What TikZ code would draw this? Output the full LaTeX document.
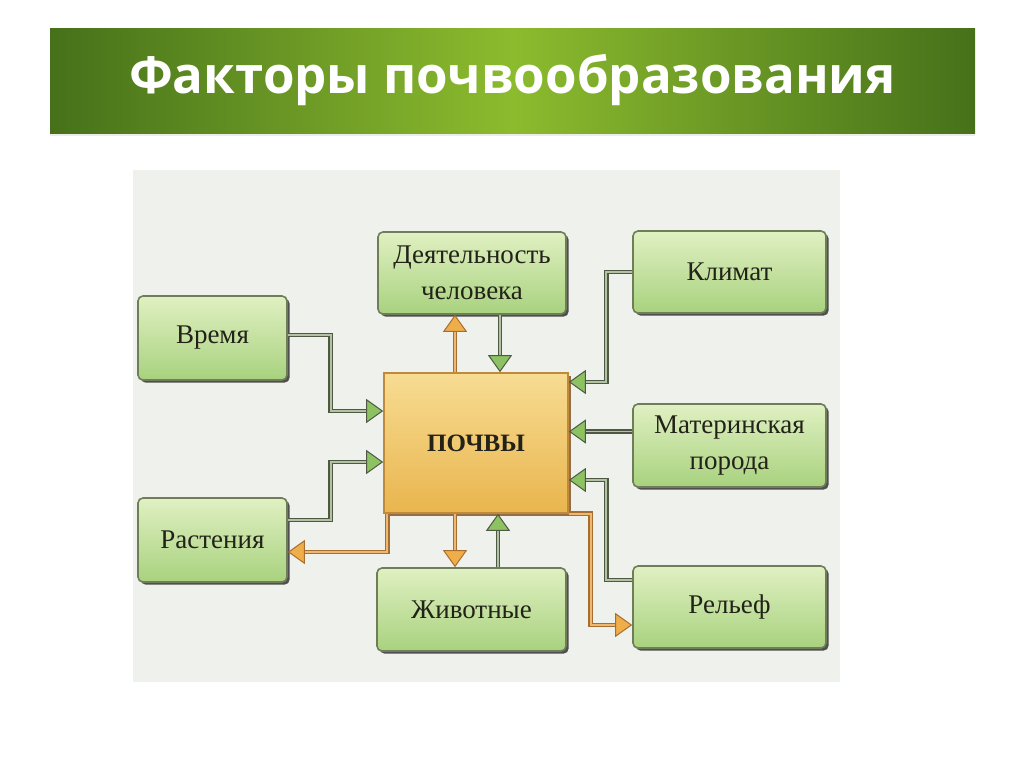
\documentclass[tikz,border=0pt]{standalone}
\usepackage{fontspec}
\setmainfont{Liberation Serif}
\newfontfamily\titlefont{Open Sans}
\usetikzlibrary{arrows.meta,shadows}

\definecolor{titledark}{HTML}{46711A}
\definecolor{titlelight}{HTML}{8CBB2E}
\definecolor{panel}{HTML}{EEF1EC}
\definecolor{boxtop}{HTML}{E0F0C2}
\definecolor{boxbottom}{HTML}{A8D27E}
\definecolor{boxline}{HTML}{6F7E58}
\definecolor{soiltop}{HTML}{F7DC92}
\definecolor{soilbottom}{HTML}{E9B54E}
\definecolor{soilline}{HTML}{C08A3C}
\definecolor{linedark}{HTML}{4E5843}
\definecolor{lineinner}{HTML}{B3C2A4}
\definecolor{arrowgreen}{HTML}{8DC262}
\definecolor{orangedark}{HTML}{A86E30}
\definecolor{orangeinner}{HTML}{EDB872}
\definecolor{arroworange}{HTML}{F0AE4A}
\definecolor{textdark}{HTML}{222218}

\tikzset{
  factor/.style={draw=boxline, line width=0.8pt, rounded corners=2.5pt,
    top color=boxtop, bottom color=boxbottom, text=textdark, align=center,
    font=\fontsize{13.5}{18}\selectfont,
    drop shadow={shadow xshift=1.3pt, shadow yshift=-1.3pt, fill=black!80, opacity=0.85}},
  soil/.style={draw=soilline, line width=0.8pt,
    top color=soiltop, bottom color=soilbottom, text=textdark,
    font=\fontsize{12.5}{18}\selectfont\bfseries,
    minimum width=92pt, minimum height=70pt,
    drop shadow={shadow xshift=1.3pt, shadow yshift=-1.3pt, fill=orangedark!80!black, opacity=0.85}},
  gconn/.style={draw=linedark, line width=2.4pt,
    -{Triangle[length=8.5pt,width=12pt,line width=0.5pt,fill=arrowgreen,color=linedark]},
    postaction={draw=lineinner, line width=0.8pt, arrows=-, shorten >=8.5pt}},
  oconn/.style={draw=orangedark, line width=2.4pt,
    -{Triangle[length=8.5pt,width=12pt,line width=0.5pt,fill=arroworange,color=orangedark]},
    postaction={draw=orangeinner, line width=0.8pt, arrows=-, shorten >=8.5pt}}
}

\begin{document}
\begin{tikzpicture}[x=0.5pt,y=-0.5pt]
    \useasboundingbox (0,0) rectangle (1024,767);
    \fill[white] (0,0) rectangle (1024,767);
    \node[minimum width=462.5pt, minimum height=52.5pt, inner sep=0pt,
          left color=titledark, right color=titledark, middle color=titlelight,
          drop shadow={shadow xshift=0pt, shadow yshift=-1.5pt, opacity=0.15},
          text=white, font=\titlefont\fontsize{25.5}{30}\selectfont\bfseries]
          (title) at (512.5,80.5) {Факторы почвообразования};
    \fill[panel] (133,170) rectangle (840,682);

    % factors round the soil
    \node[factor, minimum width=74.5pt, minimum height=42pt] (vremya) at (212.5,338) {Время};
    \node[factor, minimum width=94pt, minimum height=41pt] (deyat) at (472,273) {Деятельность\\человека};
    \node[factor, minimum width=96.5pt, minimum height=41pt] (klimat) at (729.5,272) {Климат};
    \node[soil] (pochvy) at (476,443) {ПОЧВЫ};
    \node[factor, minimum width=96.5pt, minimum height=41.5pt] (poroda) at (729.5,445.5) {Материнская\\порода};
    \node[factor, minimum width=74.5pt, minimum height=42pt] (rast) at (212.5,540) {Растения};
    \node[factor, minimum width=94.5pt, minimum height=41.5pt] (zhiv) at (471.5,609.5) {Животные};
    \node[factor, minimum width=96.5pt, minimum height=41pt] (relef) at (729.5,607) {Рельеф};

    % links into the soil
    \draw[gconn] ([yshift=1.5pt]vremya.east) -- ++(43,0) |- ([yshift=16pt]pochvy.west);
    \draw[gconn] ([yshift=10pt]rast.east) -- ++(43,0) |- ([yshift=-9.5pt]pochvy.west);
    \draw[gconn] ([xshift=12pt]pochvy.north |- deyat.south) -- ([xshift=12pt]pochvy.north);
    \draw[gconn] ([xshift=11pt]pochvy.south |- zhiv.north) -- ([xshift=11pt]pochvy.south);
    \draw[gconn] (klimat.west) -- ++(-26,0) |- ([yshift=30.5pt]pochvy.east);
    \draw[gconn] ([yshift=7pt]poroda.west) -- ([yshift=7pt]poroda.west -| pochvy.east);
    \draw[gconn] ([yshift=13.5pt]relef.west) -- ++(-26,0) |- ([yshift=-18.5pt]pochvy.east);

    % links out of the soil
    \draw[oconn] ([xshift=-10.5pt]pochvy.north) -- ([xshift=-10.5pt]pochvy.north |- deyat.south);
    \draw[oconn] ([xshift=-10.5pt]pochvy.south) -- ([xshift=-10.5pt]pochvy.south |- zhiv.north);
    \draw[oconn] ([xshift=2pt]pochvy.south west) |- ([yshift=-6pt]rast.east);
    \draw[oconn] (pochvy.south east) -- ++(22,0) |- ([yshift=-9pt]relef.west);
\end{tikzpicture}
\end{document}
